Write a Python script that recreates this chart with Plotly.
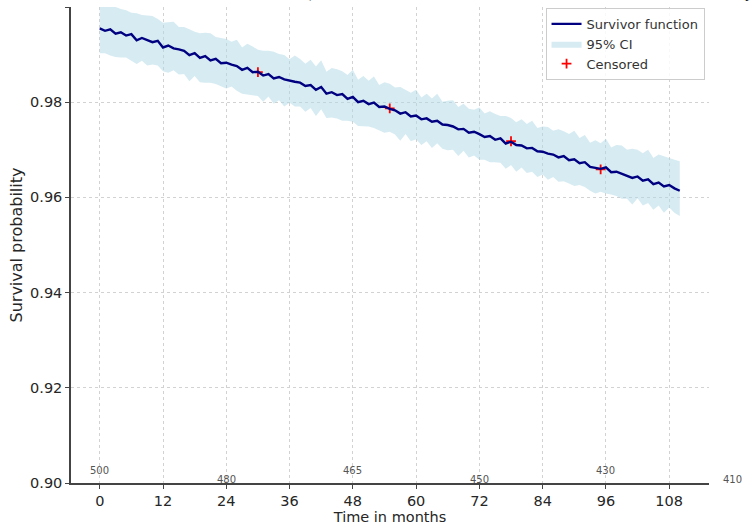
import plotly.graph_objects as go

# ---------------- data ----------------
months = list(range(0, 111))
survival = [
    0.9955, 0.9950, 0.9953, 0.9944, 0.9947, 0.9940, 0.9943, 0.9930, 0.9935, 0.9931,
    0.9926, 0.9929, 0.9915, 0.9919, 0.9913, 0.9911, 0.9908, 0.9899, 0.9903, 0.9893,
    0.9897, 0.9888, 0.9891, 0.9882, 0.9883, 0.9879, 0.9876, 0.9868, 0.9872, 0.9863,
    0.9864, 0.9856, 0.9859, 0.9850, 0.9853, 0.9848, 0.9845, 0.9843, 0.9841, 0.9834,
    0.9836, 0.9826, 0.9832, 0.9818, 0.9821, 0.9815, 0.9817, 0.9807, 0.9811, 0.9800,
    0.9803, 0.9796, 0.9799, 0.9790, 0.9791, 0.9786, 0.9783, 0.9776, 0.9779, 0.9770,
    0.9772, 0.9764, 0.9766, 0.9759, 0.9761, 0.9753, 0.9752, 0.9749, 0.9743, 0.9744,
    0.9736, 0.9738, 0.9733, 0.9727, 0.9729, 0.9721, 0.9724, 0.9713, 0.9717, 0.9710,
    0.9709, 0.9703, 0.9704, 0.9697, 0.9696, 0.9692, 0.9690, 0.9684, 0.9687, 0.9678,
    0.9680, 0.9672, 0.9674, 0.9664, 0.9662, 0.9660, 0.9663, 0.9653, 0.9654, 0.9650,
    0.9646, 0.9641, 0.9644, 0.9635, 0.9638, 0.9628, 0.9631, 0.9623, 0.9626, 0.9619,
    0.9614,
]
ci_upper_margin = [
    0.0050, 0.0054, 0.0047, 0.0056, 0.0049, 0.0053, 0.0045, 0.0057, 0.0048, 0.0051,
    0.0055, 0.0046, 0.0052, 0.0049, 0.0056, 0.0047, 0.0050, 0.0054, 0.0045, 0.0052,
    0.0049, 0.0057, 0.0046, 0.0053, 0.0050, 0.0048, 0.0055, 0.0047, 0.0051, 0.0054,
    0.0046, 0.0052, 0.0049, 0.0056, 0.0048, 0.0051, 0.0045, 0.0055, 0.0050, 0.0047,
    0.0053, 0.0049, 0.0056, 0.0046, 0.0051, 0.0054, 0.0048, 0.0050, 0.0057, 0.0047,
    0.0052, 0.0049, 0.0055, 0.0046, 0.0051, 0.0053, 0.0048, 0.0056, 0.0047, 0.0050,
    0.0054, 0.0046, 0.0052, 0.0049, 0.0057, 0.0048, 0.0051, 0.0055, 0.0047, 0.0053,
    0.0050, 0.0046, 0.0056, 0.0049, 0.0052, 0.0054, 0.0047, 0.0058, 0.0050, 0.0048,
    0.0055, 0.0051, 0.0057, 0.0049, 0.0053, 0.0056, 0.0050, 0.0059, 0.0052, 0.0055,
    0.0060, 0.0053, 0.0057, 0.0051, 0.0058, 0.0054, 0.0060, 0.0052, 0.0056, 0.0059,
    0.0054, 0.0061, 0.0056, 0.0058, 0.0062, 0.0055, 0.0059, 0.0063, 0.0057, 0.0060,
    0.0062,
]
ci_lower_margin = [
    0.0052, 0.0047, 0.0055, 0.0049, 0.0053, 0.0046, 0.0056, 0.0050, 0.0048, 0.0054,
    0.0047, 0.0052, 0.0050, 0.0057, 0.0046, 0.0053, 0.0049, 0.0055, 0.0048, 0.0051,
    0.0056, 0.0047, 0.0053, 0.0049, 0.0054, 0.0046, 0.0052, 0.0050, 0.0056, 0.0048,
    0.0051, 0.0055, 0.0047, 0.0053, 0.0049, 0.0057, 0.0046, 0.0052, 0.0050, 0.0054,
    0.0048, 0.0055, 0.0047, 0.0051, 0.0053, 0.0049, 0.0056, 0.0046, 0.0052, 0.0050,
    0.0054, 0.0047, 0.0053, 0.0049, 0.0055, 0.0048, 0.0051, 0.0057, 0.0046, 0.0052,
    0.0050, 0.0054, 0.0048, 0.0055, 0.0047, 0.0051, 0.0053, 0.0049, 0.0056, 0.0046,
    0.0052, 0.0050, 0.0054, 0.0048, 0.0055, 0.0047, 0.0051, 0.0053, 0.0049, 0.0056,
    0.0046, 0.0052, 0.0050, 0.0054, 0.0048, 0.0055, 0.0047, 0.0051, 0.0053, 0.0049,
    0.0056, 0.0046, 0.0052, 0.0050, 0.0054, 0.0048, 0.0055, 0.0047, 0.0051, 0.0053,
    0.0049, 0.0056, 0.0046, 0.0052, 0.0050, 0.0054, 0.0048, 0.0055, 0.0047, 0.0051,
    0.0053,
]
censored_months = [30, 55, 78, 95]
censored_surv = [0.9863, 0.9787, 0.9718, 0.9659]

risk_times = [0, 24, 48, 72, 96, 120]
risk_counts = [500, 480, 465, 450, 430, 410]

x_ticks = [0, 12, 24, 36, 48, 60, 72, 84, 96, 108]
y_ticks = [0.90, 0.92, 0.94, 0.96, 0.98, 1.00]
y_tick_labels = ["0.90", "0.92", "0.94", "0.96", "0.98", "1.00"]

title_text = "Kaplan-Meier Survival Curve for Overall Survival (Simulated Data, n = 500, with 95% Confidence Interval, typical study)"

X_RANGE = [-5.45, 115.55]
Y_RANGE = [0.90, 1.00]

# ---------------- derived ----------------
ci_upper = [s + m for s, m in zip(survival, ci_upper_margin)]
ci_lower = [s - m for s, m in zip(survival, ci_lower_margin)]

FONT = "DejaVu Sans"
TXT = "#262626"
fig = go.Figure()

fig.add_trace(go.Scatter(
    x=months, y=ci_lower, mode="lines", line=dict(width=0, color="rgba(0,0,0,0)"),
    showlegend=False, hoverinfo="skip",
))
fig.add_trace(go.Scatter(
    x=months, y=ci_upper, mode="lines", line=dict(width=0, color="rgba(0,0,0,0)"),
    fill="tonexty", fillcolor="rgba(173,216,230,0.5)", name="95% CI", legendrank=2,
))
fig.add_trace(go.Scatter(
    x=censored_months, y=censored_surv, mode="markers",
    marker=dict(symbol="cross-thin", size=7, line=dict(color="red", width=1.8), color="red"),
    name="Censored", legendrank=3,
))
fig.add_trace(go.Scatter(
    x=months, y=survival, mode="lines", line=dict(color="#000080", width=2.4),
    name="Survivor function", legendrank=1,
))

# numbers at risk, alternating heights (placed via paper x so the last one, past the axis end, shows)
for i, (t, c) in enumerate(zip(risk_times, risk_counts)):
    fig.add_annotation(
        text=str(c), xref="paper", yref="y",
        x=(t - X_RANGE[0]) / (X_RANGE[1] - X_RANGE[0]),
        y=0.9027 if i % 2 == 0 else 0.9008,
        xanchor="center", yanchor="middle", showarrow=False,
        font=dict(family=FONT, size=10, color="#555555"),
    )

fig.add_annotation(
    text=title_text, xref="paper", yref="paper", x=0.5, y=1.006,
    xanchor="center", yanchor="bottom", showarrow=False,
    font=dict(family=FONT, size=15, color="#222222"),
)

axis_common = dict(
    showline=True, linecolor="#444444", linewidth=1.5, mirror=False,
    ticks="outside", ticklen=4, tickwidth=1.2, tickcolor="#444444",
    showgrid=True, gridcolor="#d2d2d2", gridwidth=0.8, griddash="3px,3px",
    zeroline=False, automargin=False,
    tickfont=dict(family=FONT, size=14.5, color=TXT),
)

fig.update_xaxes(
    range=X_RANGE, tickmode="array", tickvals=x_ticks,
    ticktext=[str(t) for t in x_ticks],
    title=dict(text="Time in months", font=dict(family=FONT, size=14.5, color=TXT), standoff=2),
    **axis_common,
)
fig.update_yaxes(
    range=Y_RANGE, tickmode="array", tickvals=y_ticks, ticktext=y_tick_labels,
    title=dict(text="Survival probability", font=dict(family=FONT, size=16, color=TXT), standoff=3),
    **axis_common,
)

fig.update_layout(
    width=750, height=526,
    margin=dict(l=71, r=41, t=7, b=43),
    paper_bgcolor="white", plot_bgcolor="white",
    font=dict(family=FONT, color="#333333"),
    legend=dict(
        x=0.993, y=0.998, xanchor="right", yanchor="top",
        traceorder="normal",
        bgcolor="rgba(255,255,255,0.85)", bordercolor="#cccccc", borderwidth=1,
        font=dict(family=FONT, size=13, color="#333333"),
        tracegroupgap=0,
    ),
    showlegend=True,
)

fig.write_html("out.html")
